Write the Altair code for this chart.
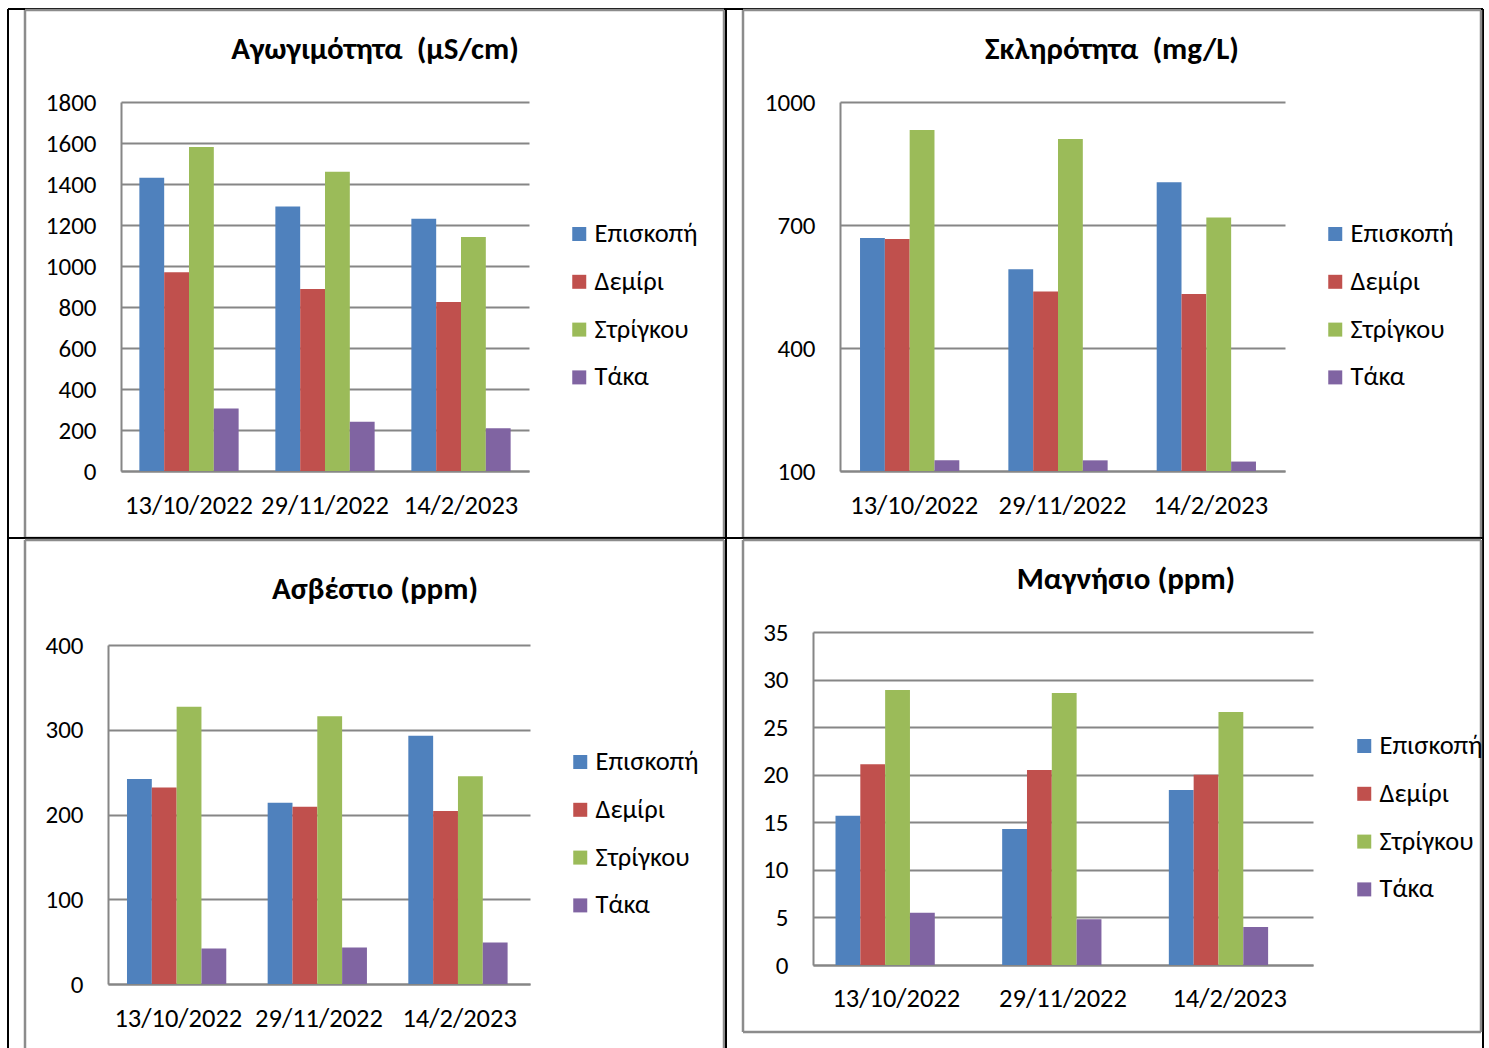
import altair as alt
import pandas as pd

# Sampling dates and stations
dates = ["13/10/2022", "29/11/2022", "14/2/2023"]
sites = ["Επισκοπή", "Δεμίρι", "Στρίγκου", "Τάκα"]
site_colors = ["#4F81BD", "#C0504D", "#9BBB59", "#8064A2"]

# Conductivity (μS/cm), one value per date for each station
conductivity = {
    "Επισκοπή": [1430, 1290, 1230],
    "Δεμίρι": [970, 888, 824],
    "Στρίγκου": [1580, 1460, 1141],
    "Τάκα": [305, 240, 208],
}
# Hardness (mg/L)
hardness = {
    "Επισκοπή": [668, 592, 804],
    "Δεμίρι": [666, 538, 532],
    "Στρίγκου": [932, 910, 718],
    "Τάκα": [126, 126, 123],
}
# Calcium (ppm)
calcium = {
    "Επισκοπή": [242, 214, 293],
    "Δεμίρι": [232, 209, 204],
    "Στρίγκου": [327, 316, 245],
    "Τάκα": [42, 43, 49],
}
# Magnesium (ppm)
magnesium = {
    "Επισκοπή": [15.7, 14.3, 18.4],
    "Δεμίρι": [21.1, 20.5, 20.0],
    "Στρίγκου": [28.9, 28.6, 26.6],
    "Τάκα": [5.5, 4.8, 4.0],
}

FONT = "Carlito, Lato, Open Sans, sans-serif"
GRID = "#868686"
FRAME = "#8c8c8c"
TICK_SIZE = 25
CAT_SIZE = 26.5
LEG_SIZE = 26.5
TITLE_SIZE = 31
one = pd.DataFrame({"k": [0]})


def seg(x1, y1, x2, y2, color, width):
    enc = dict(x=alt.value(x1), y=alt.value(y1))
    if x1 != x2:
        enc["x2"] = alt.value(x2)
    if y1 != y2:
        enc["y2"] = alt.value(y2)
    return alt.Chart(one).mark_rule(color=color, strokeWidth=width).encode(**enc)


def panel(series, title, W, H, xr, yr, dom, ticks, title_xy, legend_xy,
          lab_pad, black_sides, frame, frame_sides):
    rows = []
    for s in sites:
        for d, v in zip(dates, series[s]):
            rows.append({"date": d, "site": s, "value": v, "base": dom[0]})
    df = pd.DataFrame(rows)

    bars = alt.Chart(df).mark_bar().encode(
        x=alt.X(
            "date:N", sort=dates,
            scale=alt.Scale(range=list(xr), paddingInner=0.27, paddingOuter=0.135),
            axis=alt.Axis(title=None, labelAngle=0, ticks=False, tickSize=0,
                          labelPadding=lab_pad, labelBaseline="middle",
                          labelFont=FONT, labelFontSize=CAT_SIZE, labelColor="black",
                          domainColor=GRID, domainWidth=2,
                          offset=-(H - yr[0]), grid=False),
        ),
        xOffset=alt.XOffset("site:N", sort=sites,
                            scale=alt.Scale(paddingInner=0, paddingOuter=0)),
        y=alt.Y(
            "value:Q",
            scale=alt.Scale(domain=list(dom), range=list(yr), zero=False, nice=False),
            axis=alt.Axis(values=ticks, format="d", title=None, ticks=False,
                          tickSize=0, labelPadding=25, labelFont=FONT,
                          labelFontSize=TICK_SIZE, labelColor="black",
                          domainColor=GRID, domainWidth=2,
                          gridColor=GRID, gridWidth=2, offset=-xr[0],
                          labelOverlap=False),
        ),
        y2="base:Q",
        color=alt.Color(
            "site:N", sort=sites,
            scale=alt.Scale(domain=sites, range=site_colors),
            legend=alt.Legend(orient="none", legendX=legend_xy[0] - 6,
                              legendY=legend_xy[1] - LEG_SIZE / 2 + 1, title=None,
                              symbolType="square", symbolSize=196,
                              symbolStrokeWidth=0, labelFont=FONT,
                              labelFontSize=LEG_SIZE, labelColor="black",
                              rowPadding=20.8, labelOffset=2, padding=0),
        ),
    )

    head = alt.Chart(pd.DataFrame({"t": [title]})).mark_text(
        font=FONT, fontSize=TITLE_SIZE, fontWeight="bold", align="center",
        baseline="middle", color="black",
    ).encode(text="t:N", x=alt.value(title_xy[0]), y=alt.value(title_xy[1]))

    layers = []
    # table lines around the cell
    sides = {
        "top": (0, 0, W, 0),
        "bottom": (0, H, W, H),
        "left": (0, 0, 0, H),
        "right": (W, 0, W, H),
    }
    for s in black_sides:
        layers.append(seg(*sides[s], "black", 2))
    # chart frame
    fx1, fy1, fx2, fy2 = frame
    fsides = {
        "top": (fx1, fy1, fx2, fy1),
        "bottom": (fx1, fy2, fx2, fy2),
        "left": (fx1, fy1, fx1, fy2),
        "right": (fx2, fy1, fx2, fy2),
    }
    for s in frame_sides:
        layers.append(seg(*fsides[s], FRAME, 2.5))
    layers += [bars, head]
    return alt.layer(*layers).properties(width=W, height=H)


c1 = panel(conductivity, "Αγωγιμότητα \u00a0(μS/cm)", 718, 529, (113, 521), (462, 93),
           (0, 1800), list(range(0, 1801, 200)), (367, 41), (564, 224), 34,
           ["top", "bottom", "left", "right"], (17, 1, 716, 529),
           ["top", "bottom", "left", "right"])
c2 = panel(hardness, "Σκληρότητα \u00a0(mg/L)", 757, 529, (114, 559), (462, 93),
           (100, 1000), [100, 400, 700, 1000], (386, 41), (602, 224), 34,
           ["top", "bottom", "left", "right"], (17, 1, 755, 529),
           ["top", "bottom", "left", "right"])
c3 = panel(calcium, "Ασβέστιο (ppm)", 718, 510, (100, 522), (446, 107),
           (0, 400), [0, 100, 200, 300, 400], (367, 52), (565, 223), 34,
           ["top", "left", "right"], (17, 2, 716, 510),
           ["top", "left", "right"])
c4 = panel(magnesium, "Μαγνήσιο (ppm)", 757, 510, (87, 587), (427, 94),
           (0, 35), list(range(0, 36, 5)), (400, 42), (631, 207), 33,
           ["top", "left", "right"], (17, 2, 755, 494),
           ["top", "bottom", "left", "right"])

chart = alt.concat(
    c1, c2, c3, c4,
    columns=2,
    spacing=0,
    bounds="flush",
    align="each",
).resolve_scale(
    color="independent",
).resolve_legend(
    color="independent",
).properties(
    padding={"left": 7, "top": 8, "right": 0, "bottom": 0},
    background="white",
).configure_view(strokeWidth=0)

chart.save("out.html", embed_options={"renderer": "svg", "actions": False})
